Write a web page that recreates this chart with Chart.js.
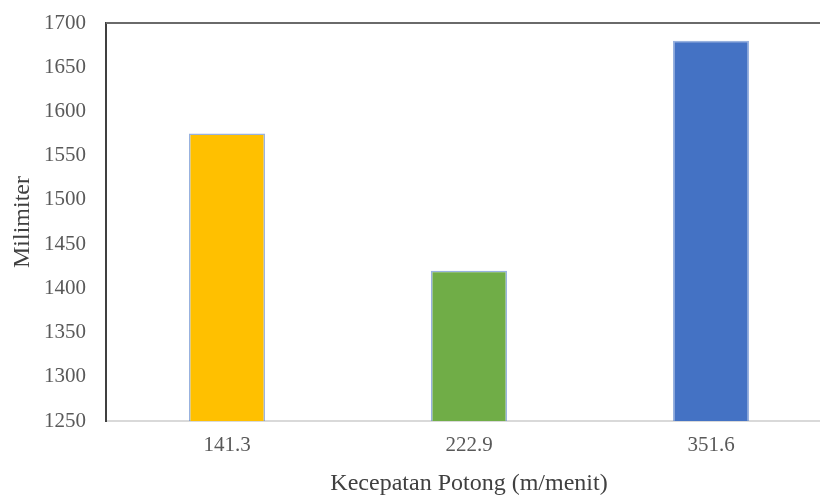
<!DOCTYPE html>
<html>
<head>
<meta charset="utf-8">
<script src="https://cdn.jsdelivr.net/npm/chart.js@4"></script>
<style>
  html, body { margin: 0; padding: 0; background: #fff; overflow: hidden; }
  #wrap { width: 840px; height: 495px; }
</style>
</head>
<body>
<div id="wrap"><canvas id="chart" width="840" height="495"></canvas></div>
<script>
const speeds = ['141.3', '222.9', '351.6'];
const lengths = [1575, 1420, 1680];
const barColors = ['#FFC000', '#70AD47', '#4472C4'];

const yMin = 1250;
const yMax = 1700;
const yStep = 50;

const font = 'Liberation Serif, Times New Roman, serif';

// dark frame line along the top of the plot area
const topBorder = {
  id: 'topBorder',
  afterDraw(chart) {
    const { ctx, chartArea } = chart;
    ctx.save();
    ctx.strokeStyle = '#6a6a6a';
    ctx.lineWidth = 2;
    ctx.beginPath();
    ctx.moveTo(chartArea.left, chartArea.top);
    ctx.lineTo(chartArea.right + 20, chartArea.top);
    ctx.stroke();
    ctx.restore();
  }
};

new Chart(document.getElementById('chart'), {
  type: 'bar',
  data: {
    labels: speeds,
    datasets: [{
      data: lengths,
      backgroundColor: barColors,
      borderColor: 'rgba(68,114,196,0.55)',
      borderWidth: 1.5,
      barPercentage: 0.314,
      categoryPercentage: 1
    }]
  },
  options: {
    responsive: false,
    animation: false,
    layout: { padding: { top: 23, right: 8, bottom: 0, left: 0 } },
    plugins: {
      legend: { display: false },
      tooltip: { enabled: false }
    },
    scales: {
      x: {
        grid: { display: false, drawTicks: false },
        border: { color: '#d9d9d9', width: 2 },
        ticks: { color: '#595959', font: { family: font, size: 21 }, padding: 12 },
        title: {
          display: true,
          text: 'Kecepatan Potong (m/menit)',
          color: '#404040',
          font: { family: font, size: 24 },
          padding: { top: 12, bottom: -3 }
        },
        afterFit(scale) { scale.height = 74; }
      },
      y: {
        min: yMin,
        max: yMax,
        // invisible tick marks keep the label gap without padding the top
        grid: { display: false, drawTicks: true, tickLength: 18 },
        border: { color: '#404040', width: 2 },
        ticks: {
          stepSize: yStep,
          color: '#595959',
          font: { family: font, size: 21 },
          padding: 2,
          callback: (v) => String(v)
        },
        title: {
          display: true,
          text: 'Milimiter',
          color: '#404040',
          font: { family: font, size: 24 },
          padding: { top: 8, bottom: 6 }
        },
        afterFit(scale) { scale.width = 106; }
      }
    }
  },
  plugins: [topBorder]
});
</script>
</body>
</html>
